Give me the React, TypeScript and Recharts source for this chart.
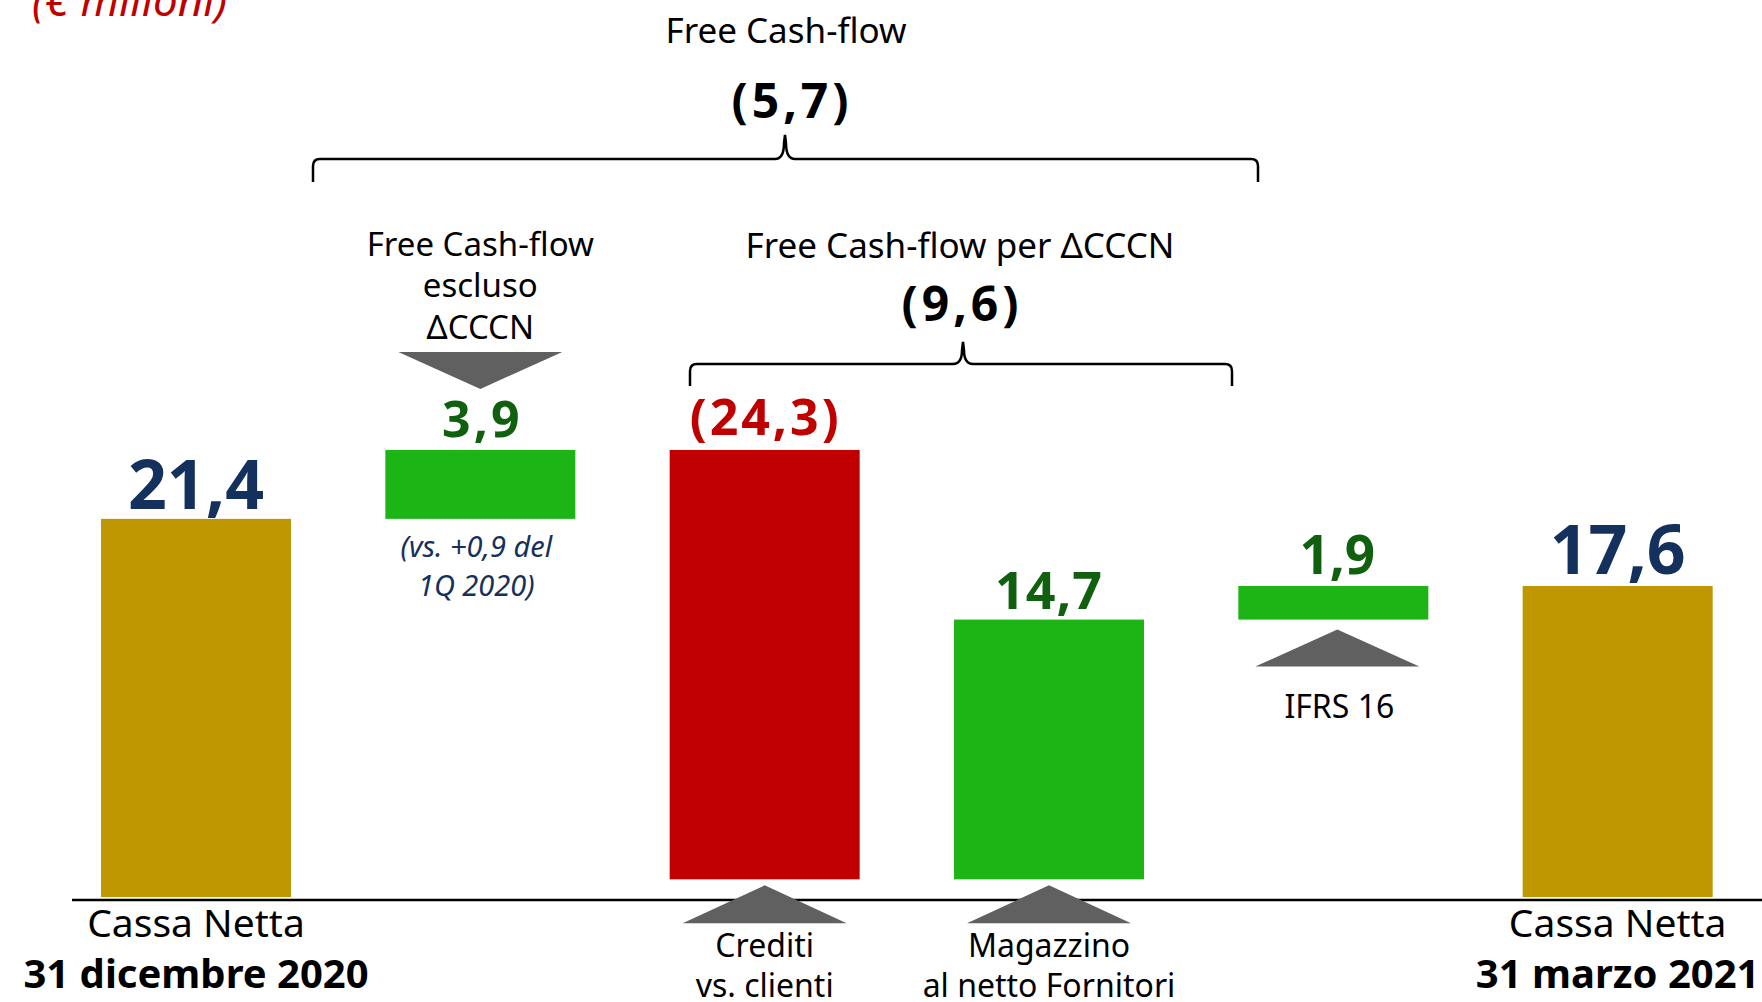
import React from "react";
import { BarChart, Bar, XAxis, YAxis, Customized } from "recharts";

// ---- data ----
const categories = [
  "Cassa Netta 31 dicembre 2020",
  "Free Cash-flow escluso ΔCCCN",
  "Crediti vs. clienti",
  "Magazzino al netto Fornitori",
  "IFRS 16",
  "Cassa Netta 31 marzo 2021",
];
const stepValues = [21.4, 3.9, -24.3, 14.7, 1.9, 17.6];
const stepKinds = ["total", "delta", "delta", "delta", "delta", "total"];
const valueLabels = ["21,4", "3,9", "(24,3)", "14,7", "1,9", "17,6"];
const subtotalLabels = ["Free Cash-flow", "(5,7)", "Free Cash-flow per ΔCCCN", "(9,6)"];
const unitLabel = "(€ milioni)";

// ---- styles ----
const barColors = ["#BF9700", "#1DB516", "#C00000", "#1DB516", "#1DB516", "#BF9700"];
const labelColors = ["#14305C", "#11600F", "#C00000", "#11600F", "#11600F", "#14305C"];
const FONT = "'Noto Sans', 'Open Sans', sans-serif";
const GREY = "#606060";
const NAVY = "#14305C";

// waterfall ranges built from the step values
let running = 0;
const data = categories.map((name, i) => {
  let range: [number, number];
  if (stepKinds[i] === "total") {
    range = [0, stepValues[i]];
    running = stepValues[i];
  } else {
    const next = running + stepValues[i];
    range = [Math.min(running, next), Math.max(running, next)];
    running = next;
  }
  return { name, range };
});

const W = 1762;
const H = 1000;

type TP = {
  x: number;
  y: number;
  size: number;
  children: React.ReactNode;
  weight?: number | string;
  color?: string;
  italic?: boolean;
  ls?: number;
  anchor?: "start" | "middle" | "end";
};
const Txt = ({ x, y, size, children, weight = 400, color = "#000", italic, ls, anchor = "middle" }: TP) => (
  <text
    x={x}
    y={y}
    textAnchor={anchor}
    fontFamily={FONT}
    fontSize={size}
    fontWeight={weight}
    fill={color}
    fontStyle={italic ? "italic" : "normal"}
    style={ls ? { letterSpacing: ls } : undefined}
  >
    {children}
  </text>
);

const triUp = (cx: number, apex: number, base: number, half = 82) => (
  <polygon points={`${cx - half},${base} ${cx + half},${base} ${cx},${apex}`} fill={GREY} />
);
const triDown = (cx: number, top: number, apex: number, half = 82) => (
  <polygon points={`${cx - half},${top} ${cx + half},${top} ${cx},${apex}`} fill={GREY} />
);

const BarShape = (props: any) => {
  const { x, y, width, height } = props;
  let index = props.index;
  if (index === undefined && props.payload) index = categories.indexOf(props.payload.name);
  const top = Math.min(y, y + height);
  const h = Math.abs(height);
  const bottom = top + h;
  const cx = x + width / 2;
  const ls = (n: number) => (n ? n : undefined);
  const extra: React.ReactNode[] = [];
  const lbl = valueLabels[index];
  const lc = labelColors[index];
  switch (index) {
    case 0:
      extra.push(<Txt key="v" x={cx} y={top - 10} size={68} weight={700} color={lc}>{lbl}</Txt>);
      extra.push(<Txt key="a" x={cx} y={bottom + 40} size={39}>Cassa Netta</Txt>);
      extra.push(<Txt key="b" x={cx} y={bottom + 91} size={40} weight={700}>31 dicembre 2020</Txt>);
      break;
    case 1:
      extra.push(<Txt key="t1" x={cx} y={top - 194} size={33}>Free Cash-flow</Txt>);
      extra.push(<Txt key="t2" x={cx} y={top - 153} size={33}>escluso</Txt>);
      extra.push(<Txt key="t3" x={cx} y={top - 111} size={33}>ΔCCCN</Txt>);
      extra.push(<g key="tri">{triDown(cx, top - 98, top - 61)}</g>);
      extra.push(<Txt key="v" x={cx + 2} y={top - 13} size={50} weight={700} color={lc} ls={ls(3)}>{lbl}</Txt>);
      extra.push(<Txt key="n1" x={cx - 4} y={bottom + 38} size={29} italic color={NAVY}>(vs. +0,9 del</Txt>);
      extra.push(<Txt key="n2" x={cx - 4} y={bottom + 77} size={29} italic color={NAVY}>1Q 2020)</Txt>);
      break;
    case 2:
      extra.push(<Txt key="v" x={cx + 1} y={top - 15} size={50} weight={700} color={lc} ls={ls(3)}>{lbl}</Txt>);
      extra.push(<g key="tri">{triUp(cx, bottom + 6, bottom + 44)}</g>);
      extra.push(<Txt key="a" x={cx} y={bottom + 78} size={32}>Crediti</Txt>);
      extra.push(<Txt key="b" x={cx} y={bottom + 118} size={32}>vs. clienti</Txt>);
      break;
    case 3:
      extra.push(<Txt key="v" x={cx} y={top - 11} size={52} weight={700} color={lc} ls={ls(1)}>{lbl}</Txt>);
      extra.push(<g key="tri">{triUp(cx, bottom + 6, bottom + 44)}</g>);
      extra.push(<Txt key="a" x={cx} y={bottom + 78} size={32}>Magazzino</Txt>);
      extra.push(<Txt key="b" x={cx} y={bottom + 118} size={32}>al netto Fornitori</Txt>);
      break;
    case 4:
      extra.push(<Txt key="v" x={cx + 4} y={top - 12} size={53} weight={700} color={lc}>{lbl}</Txt>);
      extra.push(<g key="tri">{triUp(cx + 4, bottom + 10, bottom + 47)}</g>);
      extra.push(<Txt key="a" x={cx + 6} y={bottom + 98} size={32}>IFRS 16</Txt>);
      break;
    case 5:
      extra.push(<Txt key="v" x={cx} y={top - 12} size={68} weight={700} color={lc}>{lbl}</Txt>);
      extra.push(<Txt key="a" x={cx} y={bottom + 40} size={39}>Cassa Netta</Txt>);
      extra.push(<Txt key="b" x={cx} y={bottom + 91} size={40} weight={700}>31 marzo 2021</Txt>);
      break;
  }
  return (
    <g>
      <rect x={x} y={top} width={width} height={h} fill={barColors[index]} />
      {extra}
    </g>
  );
};

const bracePath = (x1: number, x2: number, tip: number, yh: number, drop: number, rise: number) =>
  `M ${x1} ${yh + drop} L ${x1} ${yh + 7} Q ${x1} ${yh} ${x1 + 7} ${yh} ` +
  `L ${tip - 10} ${yh} Q ${tip - 1} ${yh} ${tip - 1} ${yh - rise + 8} L ${tip} ${yh - rise} ` +
  `L ${tip + 1} ${yh - rise + 8} Q ${tip + 1} ${yh} ${tip + 10} ${yh} ` +
  `L ${x2 - 7} ${yh} Q ${x2} ${yh} ${x2} ${yh + 7} L ${x2} ${yh + drop}`;

const Overlay = () => (
  <g>
    <Txt x={32} y={16} size={44} italic color="#C00000" anchor="start">{unitLabel}</Txt>
    <Txt x={786} y={43} size={35}>{subtotalLabels[0]}</Txt>
    <Txt x={792} y={118} size={48} weight={700} ls={4}>{subtotalLabels[1]}</Txt>
    <path d={bracePath(313, 1258, 785, 159, 23, 24)} fill="none" stroke="#000" strokeWidth={2.5} />
    <Txt x={960} y={258} size={35}>{subtotalLabels[2]}</Txt>
    <Txt x={962} y={321} size={48} weight={700} ls={4}>{subtotalLabels[3]}</Txt>
    <path d={bracePath(690, 1232, 963, 364, 22, 22)} fill="none" stroke="#000" strokeWidth={2.5} />
    <line x1={72} x2={W} y1={900} y2={900} stroke="#000" strokeWidth={2.5} />
  </g>
);

export default function App() {
  return (
    <div style={{ position: "absolute", left: 0, top: 0, width: W, height: H, background: "#fff" }}>
      <BarChart
        width={W}
        height={H}
        data={data}
        margin={{ top: 13.5, right: 2, bottom: 103, left: 54 }}
        barSize={190}
      >
        <XAxis dataKey="name" hide />
        <YAxis hide domain={[0, 50]} />
        <Bar dataKey="range" shape={BarShape} isAnimationActive={false} />
        <Customized component={Overlay} />
      </BarChart>
    </div>
  );
}
